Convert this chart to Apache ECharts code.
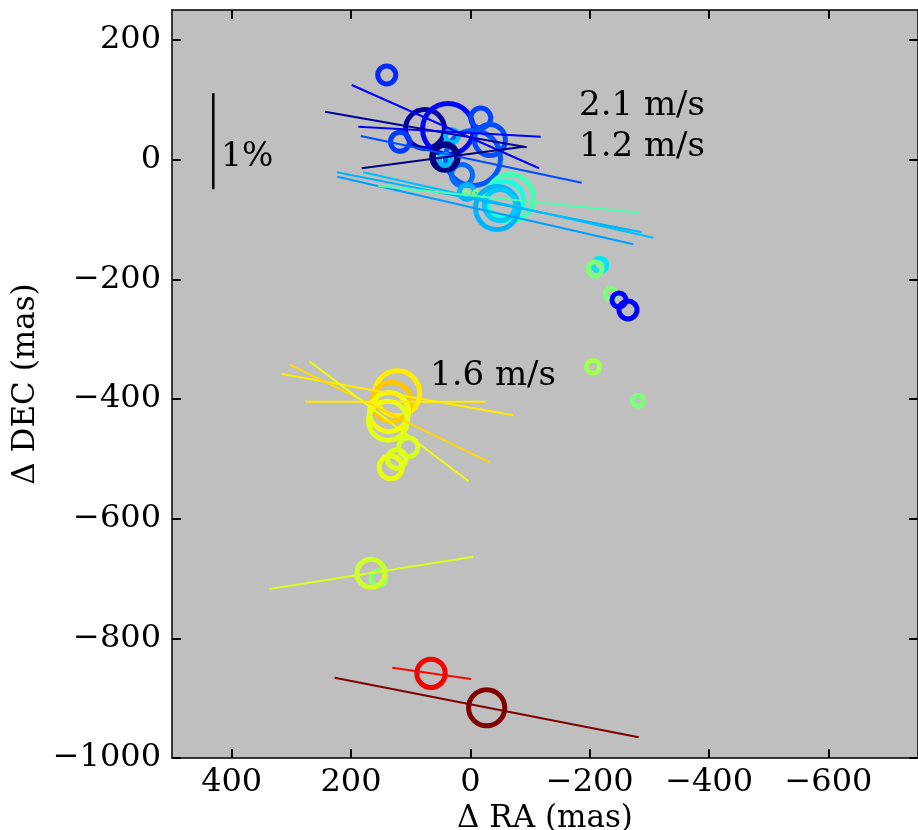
<!DOCTYPE html>
<html>
<head>
<meta charset="utf-8">
<script src="https://cdn.jsdelivr.net/npm/echarts@6/dist/echarts.min.js"></script>
<style>html,body{margin:0;padding:0;background:#fff}#chart{width:918px;height:830px}</style>
</head>
<body>
<div id="chart"></div>
<script>
// ---- Data ----
// Maser spots: offsets in mas, relative flux (size), normalised velocity (colour, 0..1 on jet)
const spotRA   = [140.2, 76.1, 37.5, 118.0, -17.3, -32.8, -4.4, 30.8, 14.1, 42.6, 42.6,
                  5.7, 7.4, -9.4, -66.4, -58.0, -44.6, -49.6,
                  -217.2, -208.8, -235.1, -249.0, -264.1, -205.4, -280.8,
                  122.5, 131.9, 136.4, 138.1, 104.1, 133.5, 123.5,
                  154.3, 166.6, 66.0, -27.3];
const spotDEC  = [141.4, 51.1, 51.1, 29.9, 69.5, 32.8, 2.7, 39.4, -25.7, 4.3, -0.7,
                  -54.1, -55.8, -55.8, -64.2, -67.5, -80.9, -75.9,
                  -176.1, -182.8, -224.6, -234.6, -251.3, -346.1, -402.9,
                  -390.5, -404.6, -421.8, -436.3, -480.8, -514.2, -500.3,
                  -699.7, -691.3, -858.5, -916.0];
const spotFlux = [11.5, 22, 28, 12, 12.5, 18, 30, 9, 13, 15, 8,
                  10, 4, 4, 26, 21, 24, 18,
                  9.3, 9.5, 8, 9.5, 11.5, 9, 8,
                  25, 22, 22, 22, 12, 14, 11.7,
                  10, 16.5, 16.7, 20.6];
const spotVel  = [0.165, 0.03, 0.13, 0.18, 0.19, 0.20, 0.21, 0.31, 0.23, 0.0, 0.31,
                  0.30, 0.50, 0.50, 0.43, 0.38, 0.30, 0.32,
                  0.35, 0.50, 0.50, 0.12, 0.125, 0.55, 0.50,
                  0.66, 0.70, 0.645, 0.625, 0.61, 0.63, 0.62,
                  0.52, 0.60, 0.905, 1.0];
// Polarization vectors: start/end offsets in mas, normalised velocity
const vecRA1  = [243.6, 198.9, 187.8, 183.8, 182.1, 224.0, 223.0, 179.5, 154.3,
                 316.2, 303.5, 270.0, 277.1, 337.0, 130.9, 227.4];
const vecDEC1 = [80.0, 124.7, 55.0, 39.4, -14.5, -21.2, -28.6, -21.2, -44.1,
                 -358.3, -342.1, -337.1, -404.6, -717.6, -849.1, -865.8];
const vecRA2  = [-94.3, -115.0, -117.8, -186.5, -88.7, -287.0, -273.0, -306.5, -283.0,
                 -71.9, -32.8, 2.8, -25.6, -4.9, -1.0, -282.0];
const vecDEC2 = [20.6, -14.5, 38.3, -38.6, 21.6, -121.5, -141.5, -130.5, -88.7,
                 -427.3, -506.5, -537.6, -404.6, -663.6, -868.0, -965.4];
const vecVel  = [0.02, 0.12, 0.11, 0.20, 0.0, 0.30, 0.28, 0.31, 0.44,
                 0.66, 0.68, 0.64, 0.66, 0.61, 0.90, 1.0];
// 1% scale bar
const barRA = [430.8, 430.8];
const barDEC = [110.8, -49.6];
// Tick values
const xTicks = [400, 200, 0, -200, -400, -600];
const yTicks = [-1000, -800, -600, -400, -200, 0, 200];

// ---- jet colormap ----
function interp(t, pts) {
  for (let i = 1; i < pts.length; i++) {
    if (t <= pts[i][0]) {
      const [x0, y0] = pts[i - 1], [x1, y1] = pts[i];
      return y0 + (y1 - y0) * (t - x0) / (x1 - x0);
    }
  }
  return pts[pts.length - 1][1];
}
function jet(t) {
  const r = interp(t, [[0, 0], [0.35, 0], [0.66, 1], [0.89, 1], [1, 0.5]]);
  const g = interp(t, [[0, 0], [0.125, 0], [0.375, 1], [0.64, 1], [0.91, 0], [1, 0]]);
  const b = interp(t, [[0, 0.5], [0.11, 1], [0.34, 1], [0.65, 0], [1, 0]]);
  const h = v => Math.round(Math.max(0, Math.min(1, v)) * 255).toString(16).padStart(2, '0');
  return '#' + h(r) + h(g) + h(b);
}

const FONT = 'DejaVu Serif';
const RING = 5;
const minus = v => String(v).replace('-', '\u2212');

const spotData = spotRA.map((x, i) => ({
  value: [x, spotDEC[i], spotFlux[i], spotVel[i]],
  itemStyle: { color: 'rgba(0,0,0,0)', opacity: 1, borderColor: jet(spotVel[i]), borderWidth: spotVel[i] < 0.01 ? 6.5 : RING }
}));
const vecData = vecRA1.map((x, i) => [x, vecDEC1[i], vecRA2[i], vecDEC2[i], vecVel[i]]);

const tickCommon = { show: true, inside: true, length: 9, lineStyle: { color: '#000', width: 2 } };
const lineCommon = { show: true, onZero: false, lineStyle: { color: '#000', width: 1.5 } };

const chart = echarts.init(document.getElementById('chart'), null, { renderer: 'canvas' });
chart.setOption({
  animation: false,
  backgroundColor: '#fff',
  grid: { left: 172, top: 10, right: 0, bottom: 72, show: true, backgroundColor: '#bfbfbf', borderWidth: 0,
          containLabel: false, outerBoundsMode: 'none' },
  xAxis: [
    { type: 'value', position: 'bottom', inverse: true, min: -750, max: 500,
      axisLine: lineCommon, axisTick: Object.assign({ customValues: xTicks }, tickCommon),
      axisLabel: { customValues: xTicks, fontSize: 32, fontFamily: FONT, color: '#000', margin: 9, formatter: minus },
      splitLine: { show: false },
      name: '\u0394 RA (mas)', nameLocation: 'middle', nameGap: 35,
      nameTextStyle: { fontSize: 31, fontFamily: FONT, color: '#000' } },
    { type: 'value', position: 'top', inverse: true, min: -750, max: 500,
      axisLine: lineCommon, axisTick: Object.assign({ customValues: xTicks }, tickCommon),
      axisLabel: { show: false }, splitLine: { show: false } }
  ],
  yAxis: [
    { type: 'value', position: 'left', min: -1000, max: 250,
      axisLine: lineCommon, axisTick: Object.assign({ customValues: yTicks }, tickCommon),
      axisLabel: { customValues: yTicks, fontSize: 32, fontFamily: FONT, color: '#000', margin: 11, formatter: minus },
      splitLine: { show: false },
      name: '\u0394 DEC (mas)', nameLocation: 'middle', nameGap: 106, nameRotate: 90,
      nameTextStyle: { fontSize: 31, fontFamily: FONT, color: '#000' } },
    { type: 'value', position: 'right', min: -1000, max: 250,
      axisLine: lineCommon, axisTick: Object.assign({ customValues: yTicks }, tickCommon),
      axisLabel: { show: false }, splitLine: { show: false } }
  ],
  series: [
    { type: 'scatter', xAxisIndex: 0, yAxisIndex: 0, symbol: 'circle',
      symbolSize: v => 2 * v[2] - RING,
      data: spotData, z: 2, emphasis: { disabled: true } },
    { type: 'custom', xAxisIndex: 0, yAxisIndex: 0, z: 3,
      data: vecData, encode: { x: [0, 2], y: [1, 3] },
      renderItem: (params, api) => {
        const p1 = api.coord([api.value(0), api.value(1)]);
        const p2 = api.coord([api.value(2), api.value(3)]);
        return { type: 'line', shape: { x1: p1[0], y1: p1[1], x2: p2[0], y2: p2[1] },
                 style: { stroke: jet(api.value(4)), lineWidth: 2 } };
      } },
    { type: 'line', xAxisIndex: 0, yAxisIndex: 0, z: 3, symbol: 'none',
      data: barRA.map((x, i) => [x, barDEC[i]]),
      lineStyle: { color: '#000', width: 2.5 } }
  ],
  graphic: [
    { type: 'text', left: 221, top: 141, style: { text: '1%', font: '33px "DejaVu Serif"', fill: '#000' } },
    { type: 'text', left: 579, top: 89, style: { text: '2.1 m/s', font: '34px "DejaVu Serif"', fill: '#000' } },
    { type: 'text', left: 579, top: 130, style: { text: '1.2 m/s', font: '34px "DejaVu Serif"', fill: '#000' } },
    { type: 'text', left: 430, top: 359, style: { text: '1.6 m/s', font: '34px "DejaVu Serif"', fill: '#000' } }
  ]
});
</script>
</body>
</html>
